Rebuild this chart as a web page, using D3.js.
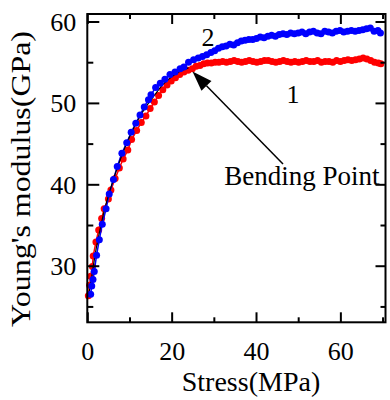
<!DOCTYPE html>
<html><head><meta charset="utf-8">
<script src="https://cdn.jsdelivr.net/npm/d3@7"></script>
<style>
html,body{margin:0;padding:0;background:#fff;}
svg text{font-family:"Liberation Serif","Times New Roman",serif;fill:#000;}
</style></head>
<body><svg id="c" width="390" height="400"></svg>
<script>
// ---- data ----
const xTicksMajor = [0, 20, 40, 60];
const xTicksMinor = [10, 30, 50, 70];
const yTicksMajor = [30, 40, 50, 60];
const yTicksMinor = [25, 35, 45, 55];

// series 1 (red)
const redX = [0.25,0.55,0.8,1.2,1.4,2.05,2.7,3.4,4.0,5.0,5.6,6.6,7.6,8.5,9.6,10.5,11.7,12.8,13.9,14.9,15.9,16.9,17.9,18.9,19.9,20.9,21.9,22.9,23.9,24.9,25.8,26.7,27.6,28.5,29.4,30.3,31.2,32.1,33.0,33.9,34.8,35.7,36.6,37.5,38.4,39.3,40.2,41.1,42.0,42.9,43.8,44.7,45.6,46.5,47.4,48.3,49.2,50.1,51.0,51.9,52.8,53.7,54.6,55.5,56.4,57.3,58.2,59.1,60.0,60.9,61.8,62.7,63.6,64.5,65.4,66.3,67.2,68.1,69.0,69.6];
const redY = [26.3,27.6,28.7,29.9,31.2,32.9,34.4,35.8,37.0,38.2,39.3,40.7,42.0,43.1,44.2,45.5,46.6,47.6,48.4,49.3,50.1,50.9,51.6,52.2,52.7,53.1,53.5,53.8,54.0,54.2,54.5,54.6,54.8,54.9,54.9,55.0,55.0,55.1,55.0,55.1,55.2,55.1,55.0,55.1,55.2,55.1,55.0,55.1,55.2,55.2,55.1,55.0,55.1,55.2,55.1,55.0,55.1,55.0,55.1,55.2,55.1,55.1,55.2,55.0,55.1,55.1,55.0,55.2,55.1,55.2,55.3,55.2,55.3,55.4,55.5,55.4,55.2,55.0,54.9,54.8];

// series 2 (blue)
const blueX = [0.8,1.05,1.35,1.65,2.2,2.85,3.55,4.45,5.2,6.2,7.1,8.2,9.35,10.4,11.5,12.5,13.5,14.5,15.1,16.2,17.3,18.4,19.6,20.8,22.0,22.9,24.0,25.2,26.3,27.3,28.3,29.3,30.2,31.1,32.0,32.9,33.8,34.7,35.6,36.5,37.4,38.3,39.2,40.1,41.0,41.9,42.8,43.7,44.6,45.5,46.4,47.3,48.2,49.1,50.0,50.9,51.8,52.7,53.6,54.5,55.4,56.3,57.2,58.1,59.0,59.9,60.8,61.7,62.6,63.5,64.4,65.3,66.2,67.1,68.0,68.9,69.5];
const blueY = [26.5,27.5,28.3,29.3,31.3,33.2,35.1,37.0,38.8,40.6,42.2,43.8,45.1,46.4,47.5,48.5,49.5,50.4,51.0,51.9,52.4,52.9,53.5,53.8,54.2,54.4,55.0,55.3,55.5,55.7,55.9,56.2,56.4,56.7,56.9,57.0,57.2,57.1,57.4,57.6,57.7,57.8,57.8,57.9,58.1,58.0,58.2,58.3,58.2,58.4,58.5,58.4,58.6,58.5,58.6,58.7,58.5,58.7,58.8,58.6,58.5,58.8,58.7,58.6,58.8,58.9,58.7,58.8,58.9,58.8,58.9,59.0,59.1,59.2,58.8,58.9,58.6];

// black fitted curve (pre-bending region)
const fitX = [0.3,1,2,3,4,5,6,8,10,12,14,16,18,20,22,24];
const fitY = [26.3,28.5,31.8,34.4,36.7,38.6,40.3,43.3,45.8,47.9,49.6,51.0,52.3,53.2,53.9,54.3];

// annotations
const bendPoint = {x: 24.7, y: 54.1};
const labelTexts = {xTitle: "Stress(MPa)", yTitle: "Young's modulus(GPa)", s1: "1", s2: "2", bend: "Bending Point"};

// ---- drawing ----
const svg = d3.select("#c");
const L = 87.3, R = 385.5, T = 14, B = 322.3;
const x = d3.scaleLinear().domain([0, 70.7]).range([L, R]);
const y = d3.scaleLinear().domain([23.05, 60.92]).range([B, T]);

const plot = svg.append("g");
const redPts = redX.map((v,i)=>[v, redY[i]]);
const bluePts = blueX.map((v,i)=>[v, blueY[i]]);
const fitPts = fitX.map((v,i)=>[v, fitY[i]]);
const line = d3.line().x(d=>x(d[0])).y(d=>y(d[1]));

plot.append("path").attr("d", line(redPts)).attr("fill","none").attr("stroke","#ff0000").attr("stroke-width",1.5);
plot.selectAll("circle.r").data(redPts).join("circle").attr("class","r")
  .attr("cx",d=>x(d[0])).attr("cy",d=>y(d[1])).attr("r",3.5).attr("fill","#ff0000");
plot.append("path").attr("d", line(bluePts)).attr("fill","none").attr("stroke","#0000ff").attr("stroke-width",1.5);
plot.append("path").attr("d", d3.line().curve(d3.curveMonotoneX).x(d=>x(d[0])).y(d=>y(d[1]))(fitPts))
  .attr("fill","none").attr("stroke","#000").attr("stroke-width",1.2);
plot.selectAll("circle.b").data(bluePts).join("circle").attr("class","b")
  .attr("cx",d=>x(d[0])).attr("cy",d=>y(d[1])).attr("r",3.5).attr("fill","#0000ff");

// axes
function styleAxis(g){ g.select(".domain").remove(); g.selectAll("line").attr("stroke","#000").attr("stroke-width",2); }
svg.append("g").attr("transform",`translate(0,${B})`).call(d3.axisBottom(x).tickValues(xTicksMajor).tickSize(-10).tickFormat(d3.format("d")))
  .call(styleAxis).call(g=>g.selectAll("text").attr("y",38.2).attr("dy",0).attr("font-size",26).attr("font-family","Liberation Serif"));
svg.append("g").attr("transform",`translate(0,${B})`).call(d3.axisBottom(x).tickValues(xTicksMinor).tickSize(-5).tickFormat("")).call(styleAxis);
svg.append("g").attr("transform",`translate(0,${T})`).call(d3.axisTop(x).tickValues(xTicksMajor).tickSize(-10).tickFormat("")).call(styleAxis);
svg.append("g").attr("transform",`translate(0,${T})`).call(d3.axisTop(x).tickValues(xTicksMinor).tickSize(-5).tickFormat("")).call(styleAxis);
svg.append("g").attr("transform",`translate(${L},0)`).call(d3.axisLeft(y).tickValues(yTicksMajor).tickSize(-12).tickFormat(d3.format("d")))
  .call(styleAxis).call(g=>g.selectAll("text").attr("x",-11).attr("dy","0.34em").attr("font-size",26).attr("font-family","Liberation Serif"));
svg.append("g").attr("transform",`translate(${L},0)`).call(d3.axisLeft(y).tickValues(yTicksMinor).tickSize(-6).tickFormat("")).call(styleAxis);
svg.append("g").attr("transform",`translate(${R},0)`).call(d3.axisRight(y).tickValues(yTicksMajor).tickSize(-10).tickFormat("")).call(styleAxis);
svg.append("g").attr("transform",`translate(${R},0)`).call(d3.axisRight(y).tickValues(yTicksMinor).tickSize(-5).tickFormat("")).call(styleAxis);

svg.append("rect").attr("x",L).attr("y",T).attr("width",R-L).attr("height",B-T)
  .attr("fill","none").attr("stroke","#000").attr("stroke-width",2);

// titles
svg.append("text").attr("x",251).attr("y",391).attr("text-anchor","middle").attr("font-size",28).text(labelTexts.xTitle);
svg.append("text").attr("transform","translate(30,179) rotate(-90)").attr("text-anchor","middle").attr("font-size",27)
  .attr("textLength",296).attr("lengthAdjust","spacingAndGlyphs").text(labelTexts.yTitle);

// series labels
svg.append("text").attr("x",208).attr("y",46).attr("text-anchor","middle").attr("font-size",26).text(labelTexts.s2);
svg.append("text").attr("x",293).attr("y",103).attr("text-anchor","middle").attr("font-size",26).text(labelTexts.s1);

// bending point annotation
svg.append("text").attr("x",302).attr("y",185).attr("text-anchor","middle").attr("font-size",27).text(labelTexts.bend);
const tip = [x(bendPoint.x)+1, y(bendPoint.y)+2];
const tail = [283, 164];
const ang = Math.atan2(tip[1]-tail[1], tip[0]-tail[0]);
const hl = 20, hw = 7;
const base = [tip[0]-hl*Math.cos(ang), tip[1]-hl*Math.sin(ang)];
svg.append("line").attr("x1",tail[0]).attr("y1",tail[1]).attr("x2",base[0]).attr("y2",base[1]).attr("stroke","#000").attr("stroke-width",1.5);
svg.append("path").attr("d",`M${tip[0]},${tip[1]} L${base[0]+hw*Math.sin(ang)},${base[1]-hw*Math.cos(ang)} L${base[0]-hw*Math.sin(ang)},${base[1]+hw*Math.cos(ang)} Z`).attr("fill","#000");
</script></body></html>
